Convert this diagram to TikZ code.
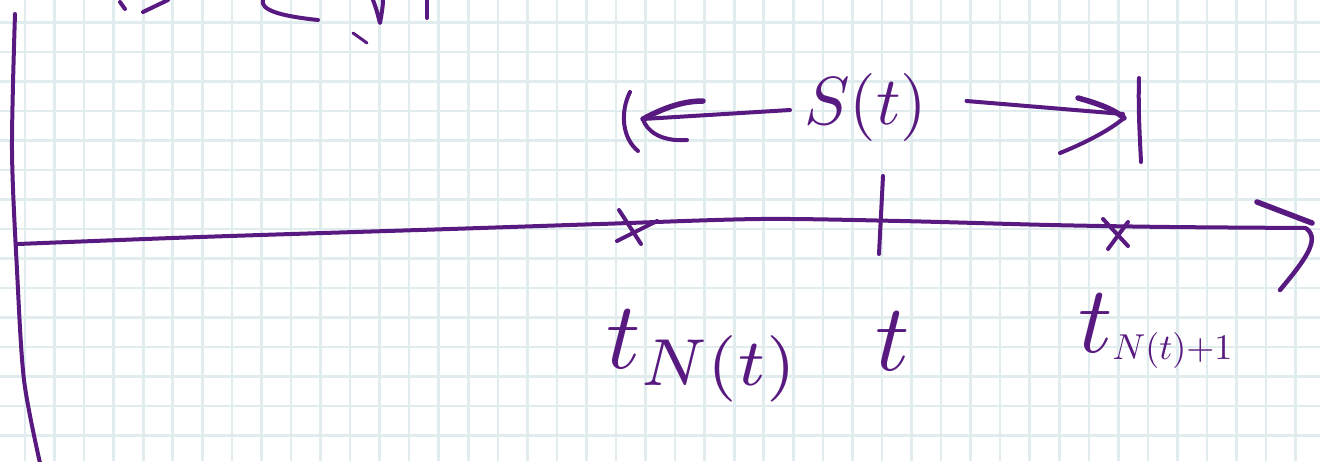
\documentclass[tikz,border=0pt]{standalone}
\definecolor{ink}{RGB}{88,26,128}
\definecolor{gridc}{RGB}{224,236,237}
\tikzset{
  gridline/.style={draw=gridc, line width=2.6pt},
  pen/.style={draw=ink, line width=4pt, line cap=round, line join=round},
  thickpen/.style={draw=ink, line width=5.5pt, line cap=round, line join=round},
  lbl/.style={text=ink, inner sep=0pt},
}
\begin{document}
\begin{tikzpicture}[x=1pt,y=-1pt]
\useasboundingbox (0,0) rectangle (1320,461);
\fill[white] (0,0) rectangle (1320,461);
% grid paper
\foreach \k in {-1,...,44} \draw[gridline] ({25+29.55*\k},0) -- ({25+29.55*\k},461);
\foreach \k in {-1,...,15} \draw[gridline] (0,{22.5+29.5*\k}) -- (1320,{22.5+29.5*\k});

% cut-off fragments at the top left
\draw[pen] (120,2) -- (125,9);
\draw[pen] (168,0) -- (143,12);
\draw[pen] (263,0) .. controls (260,10) and (280,16) .. (318,20);
\draw[pen] (373,0) .. controls (377,10) and (379,20) .. (380,23) .. controls (382,12) and (383,5) .. (383,0);
\draw[pen] (427,0) -- (427,18);
\draw[pen, line width=3pt] (353,33) -- (367,43);

% vertical axis
\coordinate (Vt) at (15,14);
\coordinate (Vb) at (40,463);
\draw[pen] plot[smooth] coordinates {(Vt) (12,150) (17,270) (24,380) (Vb)};

% horizontal axis
\coordinate (O) at (18,244);
\coordinate (E) at (1306,228);
\draw[pen] plot[smooth] coordinates {(O) (200,237) (450,229) (600,224) (760,219) (900,221) (1050,225) (1170,227) (E)};
\draw[thickpen] (1257,202) -- (1312,223);
\draw[thickpen, line width=4.5pt] (1307,229) .. controls (1320,240) and (1305,260) .. (1280,290);

% marks on the axis
\coordinate (c1) at (637,227);
\coordinate (c2) at (1117,234);
\coordinate (tk) at (881,214);
\draw[pen] (c1) ++(-18,-17) -- ++(22,34);
\draw[pen] (c1) ++(-20,14) -- ++(40,-20);
\draw[pen] (c2) ++(-14,-15) -- ++(25,27);
\draw[pen] (c2) ++(-9,15) -- ++(20,-27);
\draw[pen] (tk) ++(2,-38) -- ++(-4,78);

% labels under the axis
\node[lbl, anchor=base west] (lblTN) at (606,368) {\scalebox{9.5}{$t_{N(t)}$}};
\node[lbl, anchor=base] (lblT) at (893,370) {\scalebox{9.5}{$t$}};
\node[lbl, anchor=base west] (lblTN1) at (1078,352) {\scalebox{9.5}{$t$}\raisebox{-7pt}{\scalebox{3.6}{$N(t){+}1$}}};

% S(t) span above the axis
\node[lbl, anchor=base west] (lblS) at (804,124) {\scalebox{6.8}{$S(t)$}};
\coordinate (Lend) at (643,119);
\coordinate (Rend) at (1123,114);
\draw[pen] (630,92) .. controls (620,112) and (622,138) .. (638,151);
\draw[pen] ([xshift=-14pt,yshift=-3pt]lblS.west) -- (Lend);
\draw[thickpen] (703,101) .. controls (680,101) and (660,110) .. (Lend);
\draw[pen] (Lend) .. controls (646,130) and (660,142) .. (687,140);
\draw[pen] ([xshift=39pt,yshift=6pt]lblS.east) -- (Rend);
\draw[thickpen] (1078,98) .. controls (1100,104) and (1115,110) .. (1124,118);
\draw[pen] (1124,118) .. controls (1110,130) and (1085,143) .. (1060,153);
\draw[pen] (1139,78) .. controls (1138,110) and (1140,140) .. (1141,162);
\end{tikzpicture}
\end{document}
